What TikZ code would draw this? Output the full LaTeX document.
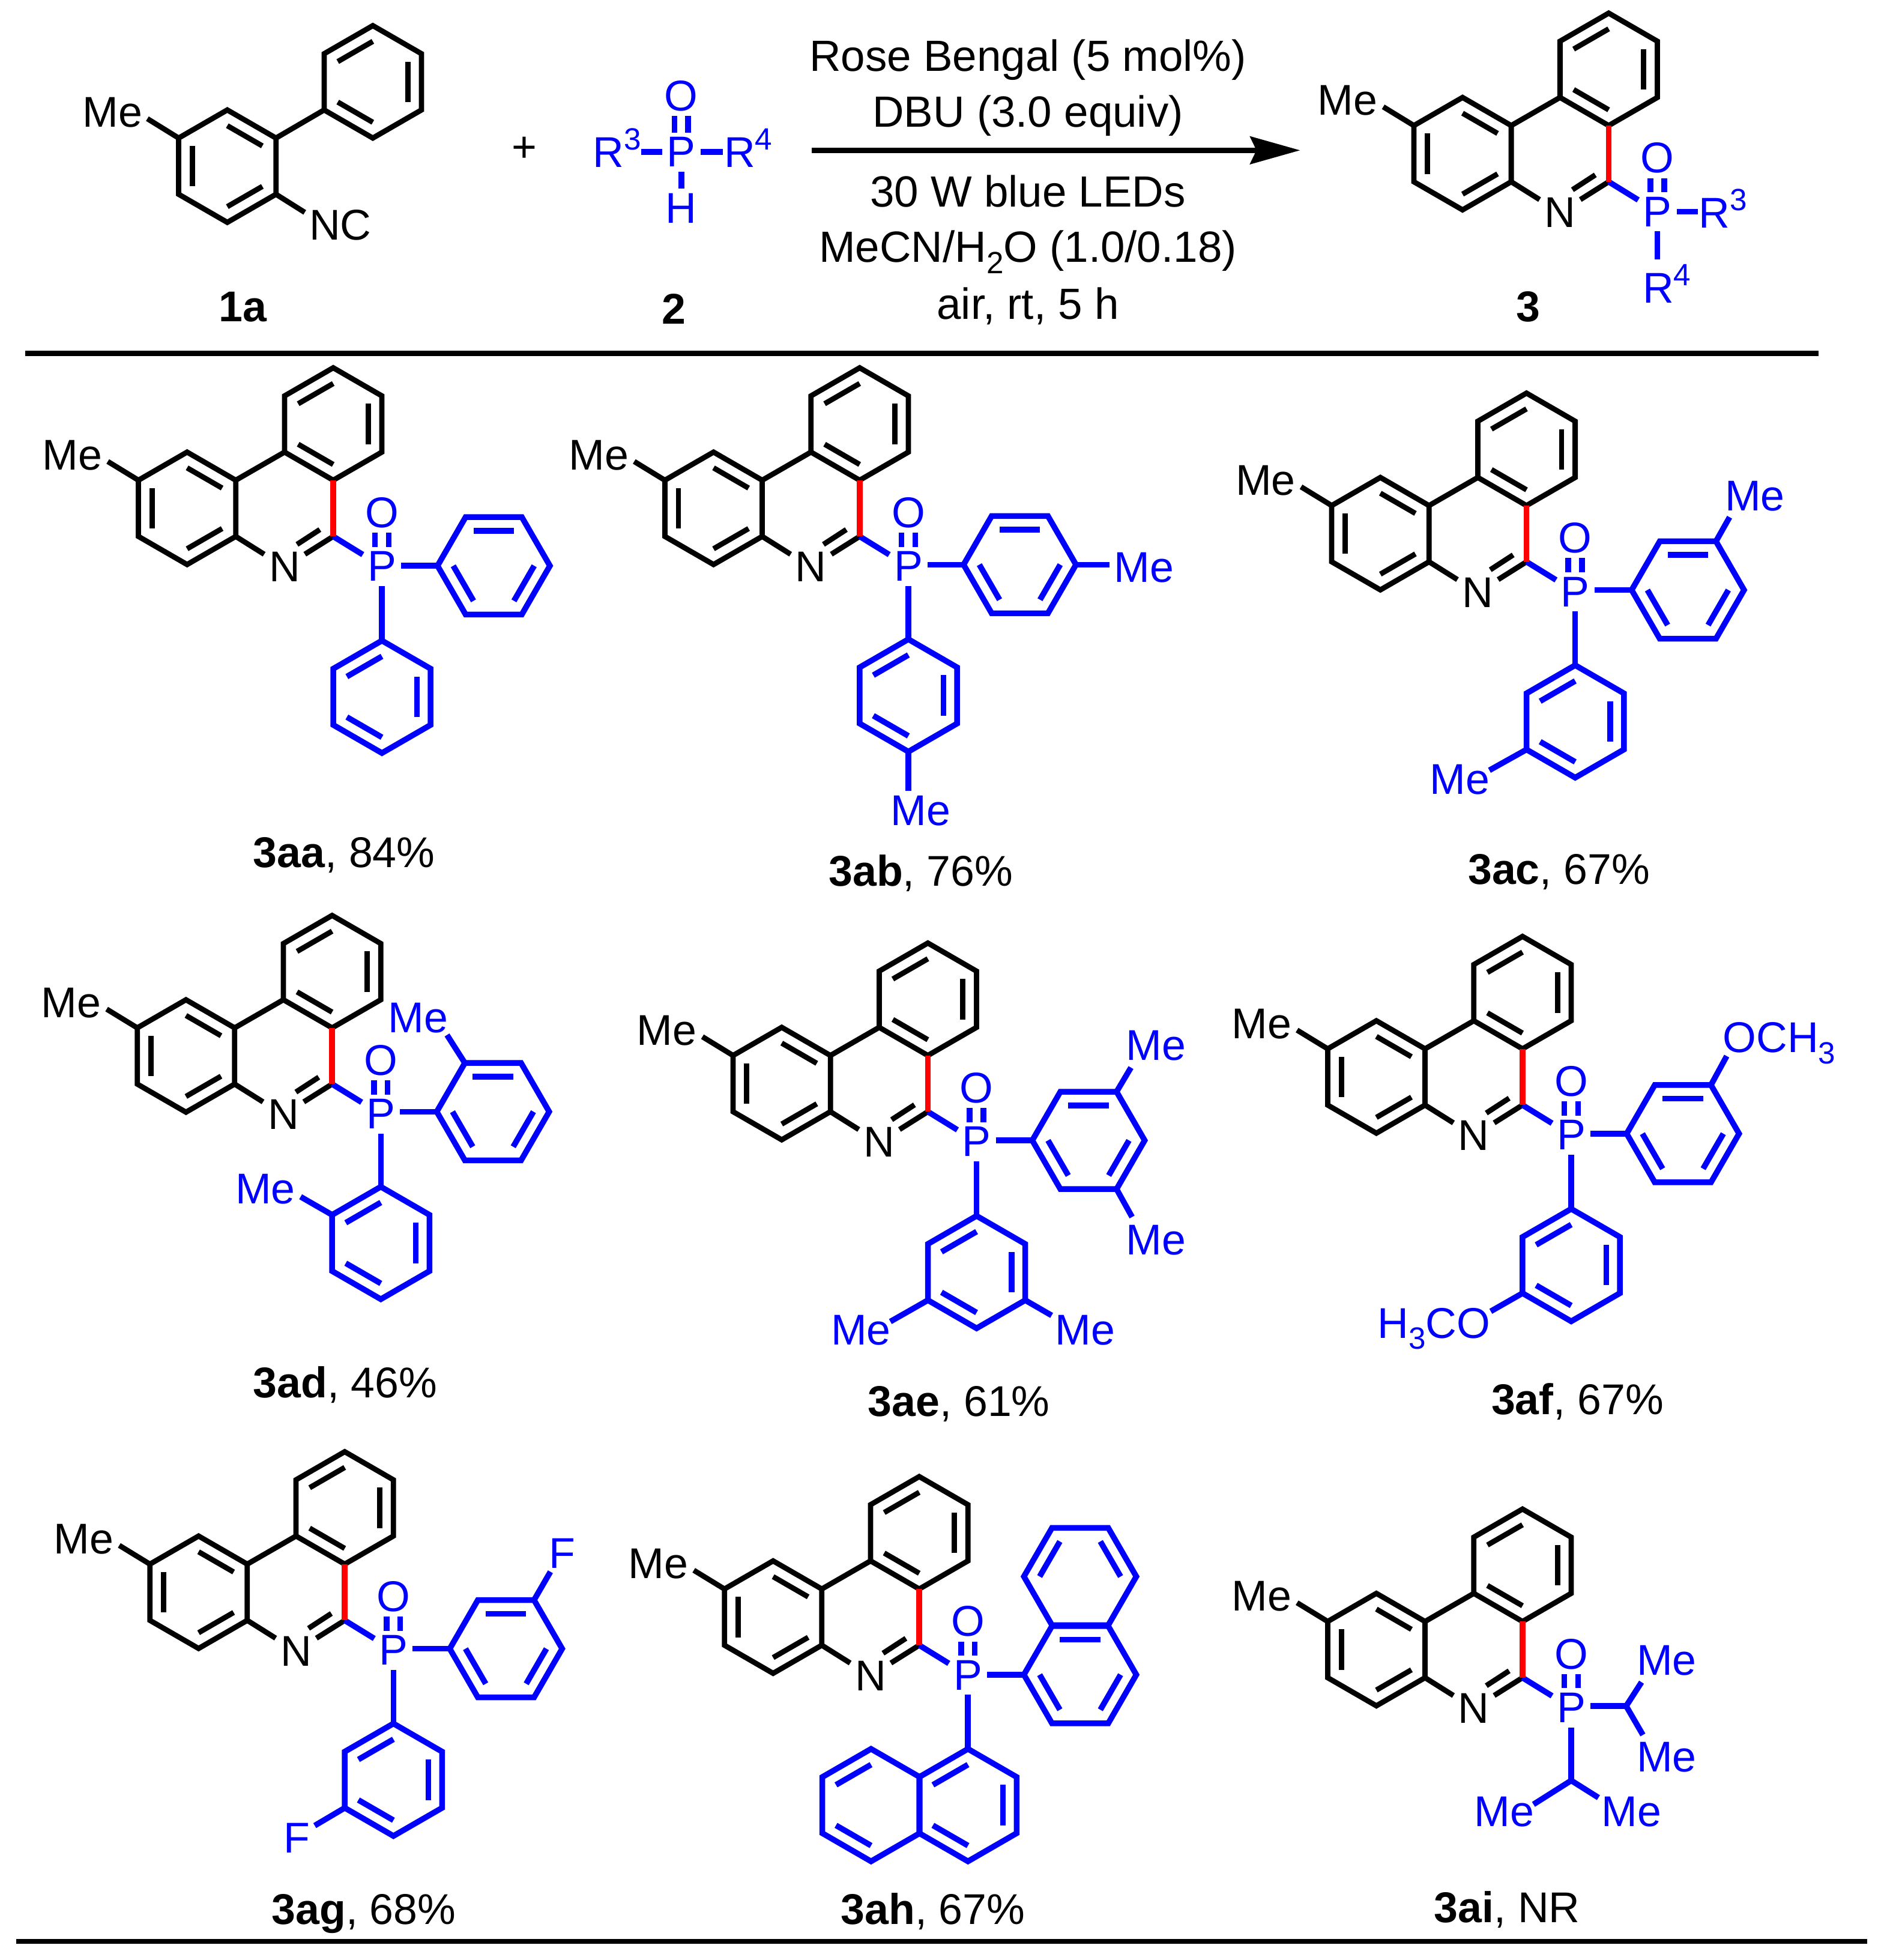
\documentclass[tikz,border=0pt]{standalone}
\usepackage{fontspec}
\setmainfont{Liberation Sans}
\usetikzlibrary{arrows.meta}

\def\hexr{.45}
\def\hexi{.324}
\newcommand{\sups}[1]{\raisebox{4pt}{\fontsize{7}{8}\selectfont #1}}
\newcommand{\subs}[1]{\raisebox{-2.5pt}{\fontsize{7}{8}\selectfont #1}}

\tikzset{
 every node/.style={font=\fontsize{9.8}{11.7}\selectfont},
 atom/.style={inner sep=.9pt},
 bond/.style={line width=1.2pt,line join=miter},
 pbond/.style={bond,blue,line width=1.3pt},
 rbond/.style={bond,red,line width=1.3pt},
 rule/.style={line width=1.25pt},
 yield/.style={anchor=base,inner sep=0pt},
 cond/.style={yield,font=\fontsize{9.95}{11.7}\selectfont},
}

% ring: [inner bonds]{style}{name}{centre}{start angle}
\newcommand{\benz}[5][0,120,240]{
 \foreach \k in {0,...,5}{
  \pgfmathtruncatemacro{\ang}{mod(#5+60*\k,360)}
  \path #4 ++(\ang:\hexr) coordinate (#3-\ang);
 }
 \draw[#2] #4 ++(#5:\hexr) -- ++(#5+120:\hexr) -- ++(#5+180:\hexr) -- ++(#5+240:\hexr) -- ++(#5+300:\hexr) -- ++(#5+360:\hexr) -- cycle;
 \foreach \a in {#1}{
  \draw[#2] #4 ++(#5+\a:\hexi) -- ++(#5+\a+120:\hexi);
 }
}

% core with P=O: {name}{x}{y} of the C next to N
\newcommand{\phenan}[3]{
 \begin{scope}[shift={(#2,#3)}]
 \benz{bond}{#1t}{(0,.9)}{90}
 \benz{bond}{#1l}{(-1.17,.225)}{30}
 \coordinate (#1C) at (0,0);
 \coordinate (#1m) at (-1.805,.6);
 \coordinate (#1n1) at (-.107,.055);
 \coordinate (#1n2) at (-.29,-.064);
 \node[atom] (#1N) at (-.39,-.245) {N};
 \node[atom,blue] (#1P) at (.39,-.24) {P};
 \node[atom,blue] (#1O) at (.39,.19) {O};
 \node[atom] (#1Me) at (-2.09,.65) {Me};
 \draw[bond] (#1t-210) -- (#1l-30);
 \draw[bond] (#1l-330) -- (#1N);
 \draw[bond] (#1C) -- (#1N);
 \draw[bond] (#1n1) -- (#1n2);
 \draw[bond] (#1l-150) -- (#1m);
 \draw[pbond] (#1C) -- (#1P);
 \draw[rbond] (#1t-270) -- (#1C);
 \draw[pbond] ([xshift=-.055cm]#1P.north) -- ([xshift=-.055cm]#1O.south);
 \draw[pbond] ([xshift=.055cm]#1P.north) -- ([xshift=.055cm]#1O.south);
 \end{scope}
}

% two aryl groups on P
\newcommand{\arylpair}[3]{
 \benz{pbond}{#1R}{#2}{60}
 \benz{pbond}{#1B}{#3}{90}
 \draw[pbond] (#1P.east |- #1R-180) -- (#1R-180);
 \draw[pbond] (#1B-90 |- #1P.south) -- (#1B-90);
}

\begin{document}
\begin{tikzpicture}
 \useasboundingbox (0,0) rectangle (15.13,-15.69);

 % substrate 1a
 \benz{bond}{sl}{(1.82,-1.33)}{30}
 \benz{bond}{su}{(2.985,-.655)}{90}
 \coordinate (sm) at (1.18,-.95);
 \coordinate (sn) at (2.44,-1.70);
 \node[atom] (sMe) at (.90,-.90) {Me};
 \node[atom] (sNC) at (2.725,-1.80) {NC};
 \draw[bond] (sl-30) -- (su-210);
 \draw[bond] (sl-150) -- (sm);
 \draw[bond] (sl-330) -- (sn);
 \node[yield] (n1a) at (1.945,-2.575) {\textbf{1a}};

 \node[atom] (plus) at (4.20,-1.195) {+};

 % reagent 2
 \node[atom,blue] (gP) at (5.455,-1.217) {P};
 \node[atom,blue] (gO) at (5.455,-.766) {O};
 \node[atom,blue] (gH) at (5.455,-1.667) {H};
 \node[atom,blue,anchor=base] (gR3) at (4.94,-1.34) {R\sups{3}};
 \node[atom,blue,anchor=base] (gR4) at (5.99,-1.34) {R\sups{4}};
 \draw[pbond] ([xshift=-.04cm]gR3.east |- gP) -- (gP.west);
 \draw[pbond] (gP.east) -- ([xshift=.03cm]gR4.west |- gP);
 \draw[pbond] (gP.south) -- (gH.north);
 \draw[pbond] ([xshift=-.055cm]gP.north) -- ([xshift=-.055cm]gO.south);
 \draw[pbond] ([xshift=.055cm]gP.north) -- ([xshift=.055cm]gO.south);
 \node[yield] (n2) at (5.395,-2.595) {\textbf{2}};

 % conditions
 \coordinate (arA) at (6.50,-1.203);
 \coordinate (arB) at (10.41,-1.203);
 \draw[rule,-{Stealth[length=.4cm,width=.22cm,inset=.05cm]}] (arA) -- (arB);
 \node[cond] (c1) at (8.23,-.57) {Rose Bengal (5 mol\%)};
 \node[cond] (c2) at (8.23,-1.017) {DBU (3.0 equiv)};
 \node[cond] (c3) at (8.23,-1.654) {30 W blue LEDs};
 \node[cond] (c4) at (8.23,-2.10) {MeCN/H\subs{2}O (1.0/0.18)};
 \node[cond] (c5) at (8.23,-2.557) {air, rt, 5 h};

 % product 3
 \phenan{p}{12.88}{-1.455}
 \node[atom,blue,anchor=base] (pR3) at (13.795,-1.825) {R\sups{3}};
 \node[atom,blue,anchor=base] (pR4) at (13.345,-2.424) {R\sups{4}};
 \draw[pbond] (pP.east) -- ([xshift=.03cm]pR3.west |- pP);
 \draw[pbond] (pP.south) -- (pP.south |- pR4.north);
 \node[yield] (n3) at (12.235,-2.576) {\textbf{3}};

 % rules
 \coordinate (ruA) at (.20,-2.83);
 \coordinate (ruB) at (14.56,-2.83);
 \coordinate (rdA) at (.13,-15.54);
 \coordinate (rdB) at (14.95,-15.54);
 \draw[rule] (ruA) -- (ruB);
 \draw[rule,line width=1.15pt] (rdA) -- (rdB);

 % 3aa
 \phenan{aa}{2.668}{-4.294}
 \arylpair{aa}{(3.953,-4.529)}{(3.058,-5.578)}
 \node[yield] (naa) at (2.755,-6.945) {\textbf{3aa}, 84\%};

 % 3ab
 \phenan{ab}{6.883}{-4.294}
 \arylpair{ab}{(8.165,-4.52)}{(7.273,-5.567)}
 \node[atom,blue] (abM1) at (9.16,-4.542) {Me};
 \node[atom,blue] (abM2) at (7.37,-6.49) {Me};
 \draw[pbond] (abR-0) -- (abM1.west |- abR-0);
 \draw[pbond] (abB-270) -- (abB-270 |- abM2.north);
 \node[yield] (nab) at (7.373,-7.092) {\textbf{3ab}, 76\%};

 % 3ac
 \phenan{ac}{12.222}{-4.497}
 \arylpair{ac}{(13.514,-4.723)}{(12.612,-5.775)}
 \node[atom,blue] (acM1) at (14.05,-3.971) {Me};
 \node[atom,blue] (acM2) at (11.689,-6.24) {Me};
 \coordinate (acm1) at (13.848,-4.14);
 \coordinate (acm2) at (11.925,-6.166);
 \draw[pbond] (acR-60) -- (acm1);
 \draw[pbond] (acB-210) -- (acm2);
 \node[yield] (nac) at (12.482,-7.077) {\textbf{3ac}, 67\%};

 % 3ad
 \phenan{ad}{2.659}{-8.678}
 \arylpair{ad}{(3.947,-8.899)}{(3.049,-9.95)}
 \node[atom,blue] (adM1) at (3.349,-8.147) {Me};
 \node[atom,blue] (adM2) at (2.125,-9.518) {Me};
 \coordinate (adm1) at (3.579,-8.285);
 \coordinate (adm2) at (2.407,-9.58);
 \draw[pbond] (adR-120) -- (adm1);
 \draw[pbond] (adB-150) -- (adm2);
 \node[yield] (nad) at (2.764,-11.19) {\textbf{3ad}, 46\%};

 % 3ae
 \phenan{ae}{7.429}{-8.899}
 \arylpair{ae}{(8.715,-9.129)}{(7.819,-10.183)}
 \node[atom,blue] (aeM1) at (9.254,-8.37) {Me};
 \node[atom,blue] (aeM2) at (9.254,-9.926) {Me};
 \node[atom,blue] (aeM3) at (6.893,-10.646) {Me};
 \node[atom,blue] (aeM4) at (8.687,-10.646) {Me};
 \coordinate (aem1) at (9.055,-8.546);
 \coordinate (aem2) at (9.064,-9.742);
 \coordinate (aem3) at (7.129,-10.579);
 \coordinate (aem4) at (8.42,-10.53);
 \draw[pbond] (aeR-60) -- (aem1);
 \draw[pbond] (aeR-300) -- (aem2);
 \draw[pbond] (aeB-210) -- (aem3);
 \draw[pbond] (aeB-330) -- (aem4);
 \node[yield] (nae) at (7.678,-11.336) {\textbf{3ae}, 61\%};

 % 3af
 \phenan{af}{12.19}{-8.846}
 \arylpair{af}{(13.474,-9.075)}{(12.58,-10.127)}
 \node[atom,blue,anchor=base] (afO1) at (14.245,-8.426) {OCH\subs{3}};
 \node[atom,blue,anchor=base] (afO2) at (11.48,-10.712) {H\subs{3}CO};
 \coordinate (afm1) at (13.825,-8.454);
 \coordinate (afm2) at (11.936,-10.497);
 \draw[pbond] (afR-60) -- (afm1);
 \draw[pbond] (afB-210) -- (afm2);
 \node[yield] (naf) at (12.63,-11.325) {\textbf{3af}, 67\%};

 % 3ag
 \phenan{ag}{2.76}{-12.971}
 \arylpair{ag}{(4.051,-13.198)}{(3.15,-14.247)}
 \node[atom,blue] (agF1) at (4.499,-12.433) {F};
 \node[atom,blue] (agF2) at (2.377,-14.712) {F};
 \coordinate (agf1) at (4.407,-12.582);
 \coordinate (agf2) at (2.52,-14.614);
 \draw[pbond] (agR-60) -- (agf1);
 \draw[pbond] (agB-210) -- (agf2);
 \node[yield] (nag) at (2.913,-15.404) {\textbf{3ag}, 68\%};

 % 3ah
 \phenan{ah}{7.36}{-13.17}
 \benz[0,120]{pbond}{ahU}{(8.648,-12.62)}{0}
 \benz{pbond}{ahR}{(8.648,-13.406)}{60}
 \benz{pbond}{ahB}{(7.75,-14.45)}{90}
 \benz[0,120]{pbond}{ahL}{(6.974,-14.45)}{90}
 \draw[pbond] (ahP.east |- ahR-180) -- (ahR-180);
 \draw[pbond] (ahB-90 |- ahP.south) -- (ahB-90);
 \node[yield] (nah) at (7.47,-15.406) {\textbf{3ah}, 67\%};

 % 3ai
 \phenan{ai}{12.19}{-13.43}
 \coordinate (aiC1) at (13.02,-13.657);
 \coordinate (aiC2) at (12.58,-14.253);
 \node[atom,blue] (aiM1) at (13.344,-13.29) {Me};
 \node[atom,blue] (aiM2) at (13.344,-14.068) {Me};
 \node[atom,blue] (aiM3) at (12.042,-14.505) {Me};
 \node[atom,blue] (aiM4) at (13.062,-14.505) {Me};
 \coordinate (aim1) at (13.143,-13.466);
 \coordinate (aim2) at (13.154,-13.888);
 \coordinate (aim3) at (12.278,-14.444);
 \coordinate (aim4) at (12.798,-14.39);
 \draw[pbond] (aiP.east |- aiC1) -- (aiC1);
 \draw[pbond] (aiC2 |- aiP.south) -- (aiC2);
 \draw[pbond] (aiC1) -- (aim1);
 \draw[pbond] (aiC1) -- (aim2);
 \draw[pbond] (aiC2) -- (aim3);
 \draw[pbond] (aiC2) -- (aim4);
 \node[yield] (nai) at (12.067,-15.39) {\textbf{3ai}, NR};
\end{tikzpicture}
\end{document}
